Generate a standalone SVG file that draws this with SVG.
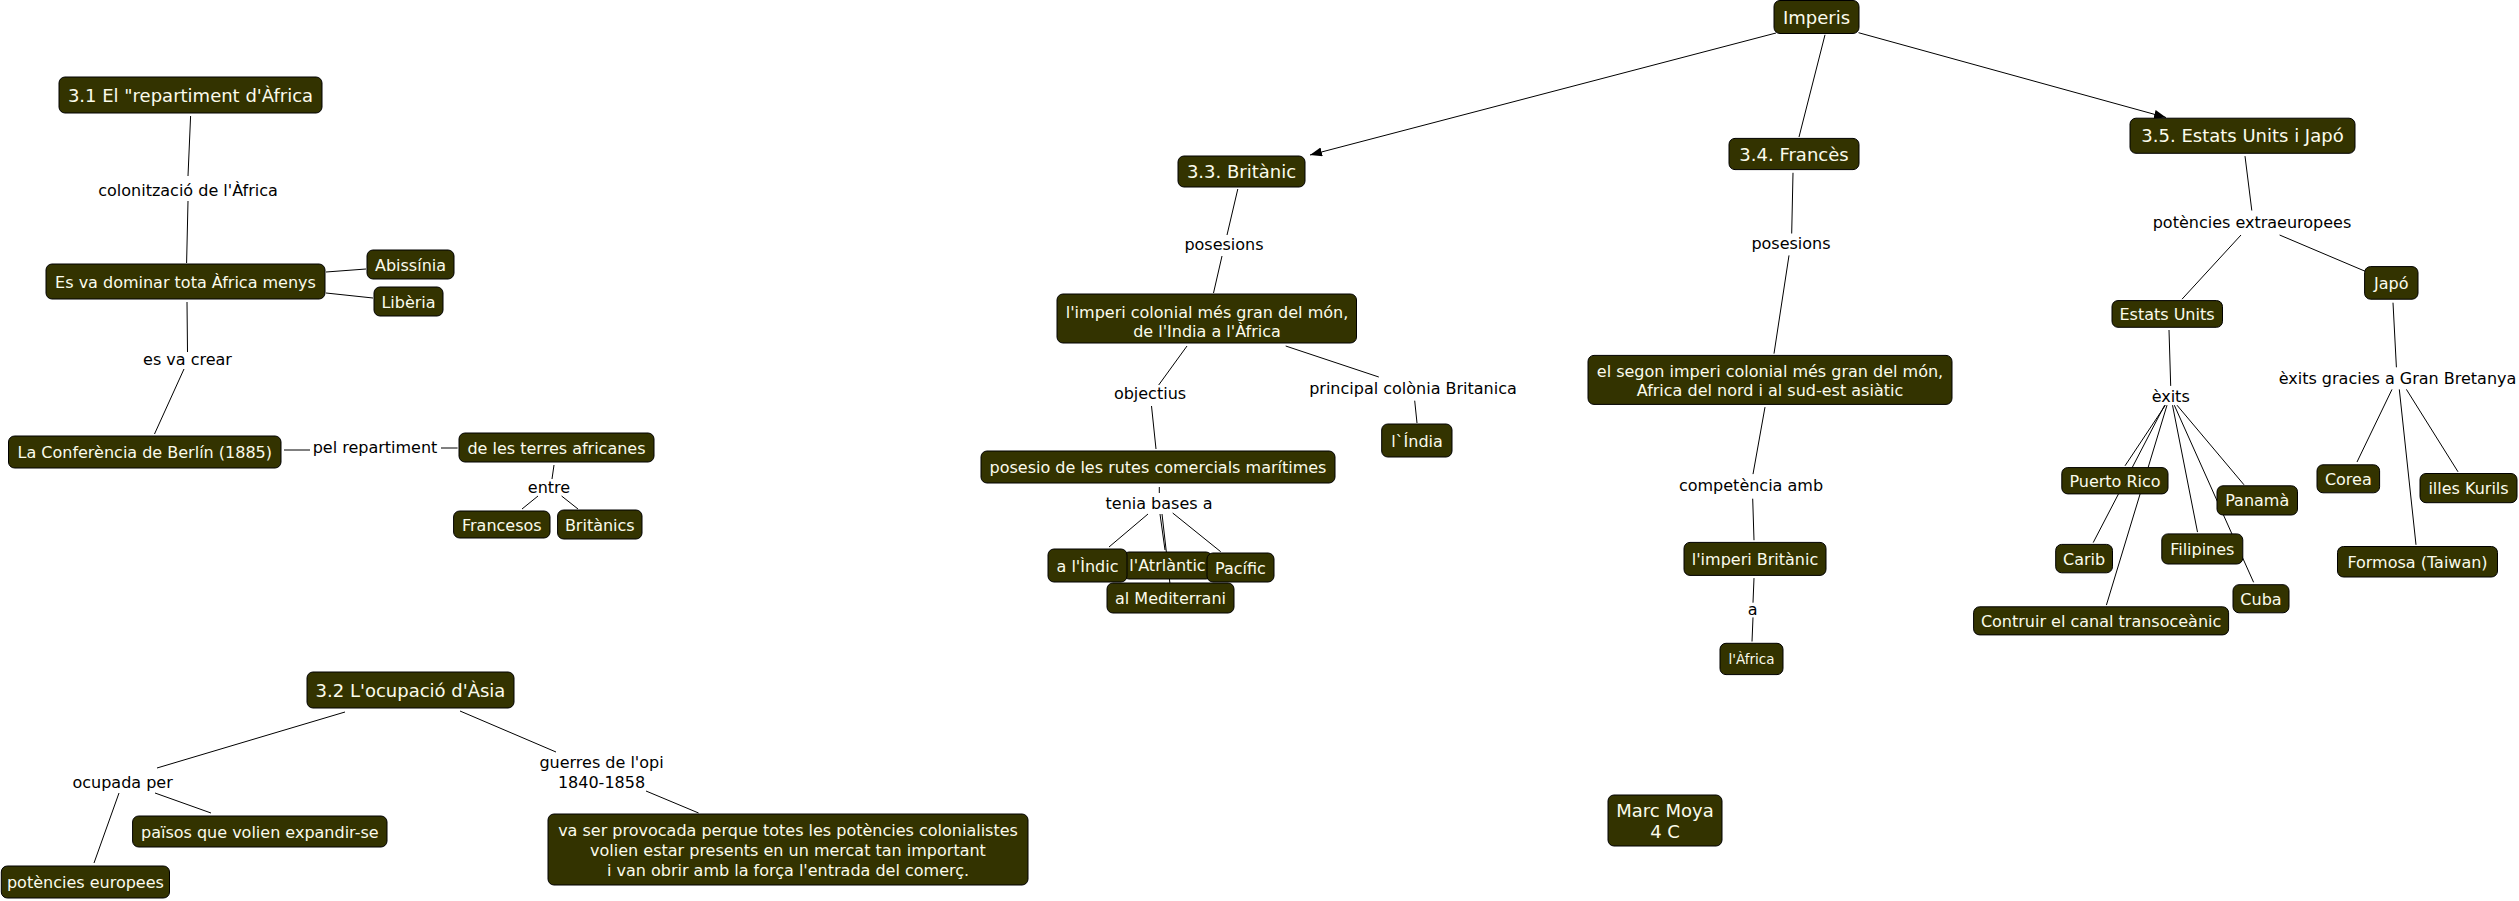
<svg xmlns="http://www.w3.org/2000/svg" width="2519" height="901" viewBox="0 0 2519 901">
<style>
.bg{fill:#ffffff}
.box{fill:#333300;stroke:#000;stroke-width:1}
.n{font-family:"DejaVu Sans","Liberation Sans",sans-serif;font-size:16px;fill:#fbfbec;text-anchor:middle}
.t{font-family:"DejaVu Sans","Liberation Sans",sans-serif;font-size:18px;fill:#fbfbec;text-anchor:middle}
.s{font-family:"DejaVu Sans","Liberation Sans",sans-serif;font-size:13.5px;fill:#fbfbec;text-anchor:middle}
.l{font-family:"DejaVu Sans","Liberation Sans",sans-serif;font-size:16px;fill:#000;text-anchor:middle}
.c line{stroke:#000;stroke-width:1;fill:none}
</style>
<defs>
<marker id="arr" markerUnits="userSpaceOnUse" markerWidth="13" markerHeight="10" refX="12" refY="4.5" orient="auto">
<path d="M0,0 L12,4.5 L0,9 Z" fill="#000"/>
</marker>
</defs>
<rect class="bg" x="0" y="0" width="2519" height="901"/>
<g id="connectors" class="c">
<line x1="190.6" y1="116" x2="188" y2="176"/>
<line x1="188" y1="201" x2="186.6" y2="263"/>
<line x1="326" y1="272" x2="366" y2="269"/>
<line x1="326" y1="293" x2="373" y2="298"/>
<line x1="187" y1="302" x2="187.5" y2="352"/>
<line x1="184" y1="369" x2="154.5" y2="434"/>
<line x1="284" y1="450" x2="310" y2="450"/>
<line x1="441" y1="448" x2="457.6" y2="448"/>
<line x1="554" y1="465" x2="552" y2="479"/>
<line x1="538" y1="496" x2="522" y2="509"/>
<line x1="561.6" y1="496" x2="578" y2="509"/>
<line x1="345" y1="712" x2="157" y2="768"/>
<line x1="119" y1="793" x2="94" y2="863"/>
<line x1="155" y1="793" x2="211" y2="813"/>
<line x1="460" y1="711" x2="556" y2="752"/>
<line x1="646" y1="791" x2="698.6" y2="813"/>
<line x1="1776" y1="33" x2="1310" y2="155" marker-end="url(#arr)"/>
<line x1="1858.5" y1="32.7" x2="2166" y2="117.5" marker-end="url(#arr)"/>
<line x1="1825" y1="34.8" x2="1799" y2="137"/>
<line x1="1237.8" y1="189" x2="1227" y2="235"/>
<line x1="1222" y1="256" x2="1213.5" y2="293"/>
<line x1="1187" y1="346" x2="1158.7" y2="385"/>
<line x1="1151.5" y1="406" x2="1156" y2="449"/>
<line x1="1285.7" y1="346" x2="1378.8" y2="377"/>
<line x1="1414.7" y1="400.7" x2="1417" y2="423"/>
<line x1="1159.3" y1="487" x2="1159.3" y2="493"/>
<line x1="1148" y1="514" x2="1109" y2="547"/>
<line x1="1160" y1="514" x2="1165" y2="550"/>
<line x1="1172.7" y1="513" x2="1220.7" y2="551.7"/>
<line x1="1162" y1="514" x2="1170" y2="584"/>
<line x1="1793" y1="172.8" x2="1791.7" y2="233.5"/>
<line x1="1789" y1="255.4" x2="1774" y2="353.6"/>
<line x1="1765" y1="407.1" x2="1753" y2="474.1"/>
<line x1="1752.7" y1="498.7" x2="1754" y2="540.2"/>
<line x1="1754" y1="578.1" x2="1753" y2="602.7"/>
<line x1="1753" y1="617.4" x2="1752" y2="641.5"/>
<line x1="2245" y1="156.1" x2="2251.8" y2="210.5"/>
<line x1="2241" y1="235" x2="2182" y2="299.2"/>
<line x1="2279.6" y1="235" x2="2365" y2="271.2"/>
<line x1="2169" y1="330" x2="2170.7" y2="385.9"/>
<line x1="2165.4" y1="405.2" x2="2125" y2="465.8"/>
<line x1="2164.6" y1="405.2" x2="2093.2" y2="542.6"/>
<line x1="2167" y1="405.2" x2="2106.4" y2="605.1"/>
<line x1="2172.5" y1="405.2" x2="2197.5" y2="532.1"/>
<line x1="2174.3" y1="405.2" x2="2253.6" y2="582.3"/>
<line x1="2177" y1="405.2" x2="2244" y2="484.8"/>
<line x1="2393" y1="302.7" x2="2396.4" y2="367.3"/>
<line x1="2392" y1="389.4" x2="2357" y2="462"/>
<line x1="2399.3" y1="389.4" x2="2416" y2="544.8"/>
<line x1="2406.4" y1="389.4" x2="2458" y2="471.8"/>
</g>

<g id="n31"><rect class="box" x="59" y="77" width="263" height="36" rx="6"/><text class="t" x="190.5" y="101.5">3.1 El "repartiment d'Àfrica</text></g>
<g id="l-colonitzacio"><text class="l" x="188" y="196">colonització de l'Àfrica</text></g>
<g id="n-esva"><rect class="box" x="46" y="264" width="279" height="35" rx="6"/><text class="n" x="185.5" y="287.5">Es va dominar tota Àfrica menys</text></g>
<g id="n-abissinia"><rect class="box" x="367" y="250" width="87" height="29" rx="6"/><text class="n" x="410.5" y="270.5">Abissínia</text></g>
<g id="n-liberia"><rect class="box" x="374" y="287" width="69" height="29" rx="6"/><text class="n" x="408.5" y="307.5">Libèria</text></g>
<g id="l-esvacrear"><text class="l" x="187.5" y="365">es va crear</text></g>
<g id="n-berlin"><rect class="box" x="8.5" y="436" width="272.5" height="32" rx="6"/><text class="n" x="144.75" y="458">La Conferència de Berlín (1885)</text></g>
<g id="l-pelrepartiment"><text class="l" x="375" y="453">pel repartiment</text></g>
<g id="n-terres"><rect class="box" x="459" y="433" width="195" height="29" rx="6"/><text class="n" x="556.5" y="453.5">de les terres africanes</text></g>
<g id="l-entre"><text class="l" x="549" y="493">entre</text></g>
<g id="n-francesos"><rect class="box" x="453.6" y="511" width="96.4" height="27" rx="6"/><text class="n" x="501.8" y="530.5">Francesos</text></g>
<g id="n-britanics"><rect class="box" x="557.6" y="510" width="84.4" height="29" rx="6"/><text class="n" x="599.8" y="530.5">Britànics</text></g>

<g id="n32"><rect class="box" x="307" y="672" width="207" height="36" rx="6"/><text class="t" x="410.5" y="696.5">3.2 L'ocupació d'Àsia</text></g>
<g id="l-ocupada"><text class="l" x="122.6" y="788">ocupada per</text></g>
<g id="n-paisos"><rect class="box" x="132.6" y="816" width="254.4" height="31" rx="6"/><text class="n" x="259.8" y="837.5">països que volien expandir-se</text></g>
<g id="n-potencies"><rect class="box" x="1.3" y="866" width="168.2" height="32" rx="6"/><text class="n" x="85.4" y="888">potències europees</text></g>
<g id="l-guerres"><text class="l" x="601.5" y="768">guerres de l'opi</text><text class="l" x="601.5" y="788">1840-1858</text></g>
<g id="n-vaser"><rect class="box" x="548" y="814" width="480" height="71" rx="6"/><text class="n" x="788" y="836">va ser provocada perque totes les potències colonialistes</text><text class="n" x="788" y="856">volien estar presents en un mercat tan important</text><text class="n" x="788" y="876">i van obrir amb la força l'entrada del comerç.</text></g>

<g id="n-imperis"><rect class="box" x="1774" y="0.5" width="85" height="33" rx="6"/><text class="t" x="1816.5" y="23.5">Imperis</text></g>

<g id="n33"><rect class="box" x="1178" y="156" width="127" height="31" rx="6"/><text class="t" x="1241.5" y="178">3.3. Britànic</text></g>
<g id="l-posesions33"><text class="l" x="1224" y="250">posesions</text></g>
<g id="n-impericolonial"><rect class="box" x="1057" y="294" width="299.5" height="49" rx="6"/><text class="n" x="1207" y="318">l'imperi colonial més gran del món,</text><text class="n" x="1207" y="336.5">de l'India a l'Àfrica</text></g>
<g id="l-objectius"><text class="l" x="1150" y="399">objectius</text></g>
<g id="l-principal"><text class="l" x="1413" y="394">principal colònia Britanica</text></g>
<g id="n-india"><rect class="box" x="1381.7" y="424" width="70.3" height="33" rx="6"/><text class="n" x="1417" y="446.5">l`Índia</text></g>
<g id="n-posesio"><rect class="box" x="981" y="451" width="354" height="32" rx="6"/><text class="n" x="1158" y="473">posesio de les rutes comercials marítimes</text></g>
<g id="l-tenia"><text class="l" x="1159" y="509">tenia bases a</text></g>
<g id="n-atlantic"><rect class="box" x="1123" y="552" width="89" height="27" rx="6"/><text class="n" x="1167.5" y="571">l'Atrlàntic</text></g>
<g id="n-indic"><rect class="box" x="1048" y="549" width="79" height="33" rx="6"/><text class="n" x="1087.5" y="572">a l'Ìndic</text></g>
<g id="n-pacific"><rect class="box" x="1207" y="553" width="67" height="29" rx="6"/><text class="n" x="1240.5" y="573.5">Pacífic</text></g>
<g id="n-mediterrani"><rect class="box" x="1107" y="583" width="127" height="30" rx="6"/><text class="n" x="1170.5" y="604">al Mediterrani</text></g>

<g id="n34"><rect class="box" x="1729" y="138.4" width="130" height="31.2" rx="6"/><text class="t" x="1794" y="160.5">3.4. Francès</text></g>
<g id="l-posesions34"><text class="l" x="1791" y="249">posesions</text></g>
<g id="n-segon"><rect class="box" x="1588" y="355.4" width="364" height="49" rx="6"/><text class="n" x="1770" y="377">el segon imperi colonial més gran del món,</text><text class="n" x="1770" y="396">Africa del nord i al sud-est asiàtic</text></g>
<g id="l-competencia"><text class="l" x="1751" y="491">competència amb</text></g>
<g id="n-imperibritanic"><rect class="box" x="1684" y="542.4" width="142" height="33" rx="6"/><text class="n" x="1755" y="564.5">l'imperi Britànic</text></g>
<g id="l-a"><text class="l" x="1752.7" y="615">a</text></g>
<g id="n-africa"><rect class="box" x="1720" y="643.3" width="63" height="31.3" rx="6"/><text class="s" x="1751.5" y="664">l'Àfrica</text></g>

<g id="n35"><rect class="box" x="2130" y="118.2" width="225" height="35.1" rx="6"/><text class="t" x="2242.5" y="142">3.5. Estats Units i Japó</text></g>
<g id="l-potenciesextra"><text class="l" x="2252" y="227.5">potències extraeuropees</text></g>
<g id="n-estatsunits"><rect class="box" x="2112" y="300.6" width="110.5" height="26.7" rx="6"/><text class="n" x="2167" y="319.5">Estats Units</text></g>
<g id="n-japo"><rect class="box" x="2364.6" y="266.6" width="53.4" height="32.6" rx="6"/><text class="n" x="2391.3" y="288.5">Japó</text></g>
<g id="l-exits"><text class="l" x="2170.7" y="401.5">èxits</text></g>
<g id="n-puertorico"><rect class="box" x="2061.8" y="467.6" width="106.2" height="26.3" rx="6"/><text class="n" x="2115" y="486.5">Puerto Rico</text></g>
<g id="n-panama"><rect class="box" x="2217" y="485.8" width="80.5" height="29.2" rx="6"/><text class="n" x="2257.2" y="506">Panamà</text></g>
<g id="n-carib"><rect class="box" x="2055.7" y="544.4" width="56.8" height="28.4" rx="6"/><text class="n" x="2084.1" y="564.5">Carib</text></g>
<g id="n-filipines"><rect class="box" x="2161.8" y="533.9" width="81" height="30.1" rx="6"/><text class="n" x="2202.3" y="554.5">Filipines</text></g>
<g id="n-cuba"><rect class="box" x="2233" y="584.7" width="56" height="28.1" rx="6"/><text class="n" x="2261" y="604.5">Cuba</text></g>
<g id="n-canal"><rect class="box" x="1973.6" y="606.8" width="255" height="28.1" rx="6"/><text class="n" x="2101.1" y="626.5">Contruir el canal transoceànic</text></g>
<g id="l-exitsgb"><text class="l" x="2397.5" y="383.5">èxits gracies a Gran Bretanya</text></g>
<g id="n-corea"><rect class="box" x="2317" y="464.8" width="62.6" height="28" rx="6"/><text class="n" x="2348.3" y="484.5">Corea</text></g>
<g id="n-kurils"><rect class="box" x="2420" y="473.5" width="97" height="29.2" rx="6"/><text class="n" x="2468.5" y="494">illes Kurils</text></g>
<g id="n-formosa"><rect class="box" x="2337.5" y="546.5" width="160" height="30.5" rx="6"/><text class="n" x="2417.5" y="567.5">Formosa (Taiwan)</text></g>

<g id="n-marc"><rect class="box" x="1608" y="795" width="114" height="51" rx="6"/><text class="t" x="1665" y="816.5">Marc Moya</text><text class="t" x="1665" y="838">4 C</text></g>
</svg>
